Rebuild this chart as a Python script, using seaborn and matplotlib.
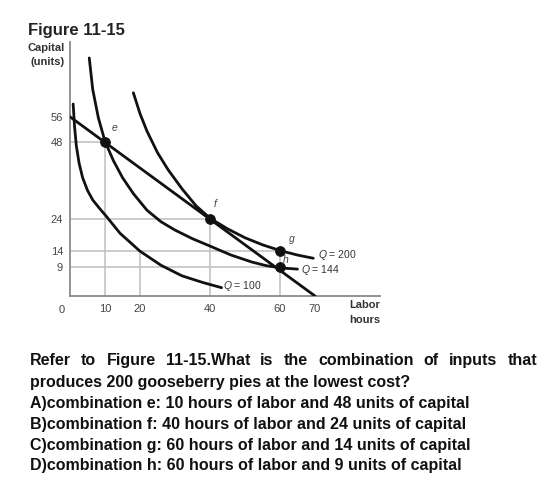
import matplotlib
matplotlib.use("Agg")
import matplotlib.pyplot as plt
import seaborn as sns

# isoquants: labor hours vs capital units
q100_labor   = [0.9, 1.3, 1.8, 2.6, 3.6, 5, 6.5, 8.5, 10.3, 14.3, 20, 26, 32, 38, 43.3]
q100_capital = [60, 53, 47, 41.5, 37, 33, 30, 27.3, 25, 19.6, 14, 9.6, 6.3, 4.2, 2.6]
q144_labor   = [5.5, 6.5, 8.1, 10, 12.4, 15, 18.1, 22, 26, 30, 35, 40, 46, 52, 56, 60, 65]
q144_capital = [74.4, 64.5, 55.7, 48.3, 42.3, 37, 32, 26.8, 23.2, 20.6, 17.9, 15.6, 12.8, 10.6, 9.5, 8.8, 8.4]
q200_labor   = [18.1, 20, 22, 25, 28, 32, 36, 40, 45, 50, 55, 60, 65, 69.5]
q200_capital = [63.5, 57, 51.5, 44.8, 39.5, 33.5, 28.2, 24.3, 21.0, 18.2, 16.0, 14.2, 12.8, 11.8]

# isocost line
iso_labor   = [0, 70]
iso_capital = [56, 0]

# marked combinations
pt_names   = ["e", "f", "g", "h"]
pt_labor   = [10, 40, 60, 60]
pt_capital = [48, 24, 14, 9]

x_ticks = [10, 20, 40, 60, 70]
y_ticks = [9, 14, 24, 48, 56]

# guide lines (level, end)
h_guides = [(48, 10), (24, 40), (14, 60), (9, 60)]
v_guides = [(10, 48), (20, 14), (40, 24), (60, 14)]

question = [
    "Refer to Figure 11-15.What is the combination of inputs that",
    "produces 200 gooseberry pies at the lowest cost?",
    "A)combination e: 10 hours of labor and 48 units of capital",
    "B)combination f: 40 hours of labor and 24 units of capital",
    "C)combination g: 60 hours of labor and 14 units of capital",
    "D)combination h: 60 hours of labor and 9 units of capital",
]

sns.set_theme(style="white")
plt.rcParams["font.family"] = ["Liberation Sans", "DejaVu Sans"]
plt.rcParams["mathtext.fontset"] = "custom"
plt.rcParams["mathtext.it"] = "Liberation Sans:italic"
plt.rcParams["mathtext.rm"] = "Liberation Sans"

W, H = 557, 499
fig = plt.figure(figsize=(W / 100, H / 100), dpi=100)
ax = fig.add_axes([70 / W, 1 - 296 / H, 310 / W, 254 / H])
ax.set_xlim(0, 310 / 3.5)
ax.set_ylim(0, 254 / 3.2)

GUIDE = "#c4c4c4"
for lvl, end in h_guides:
    ax.hlines(lvl, 0, end, color=GUIDE, lw=1.2, zorder=1)
for lvl, end in v_guides:
    ax.vlines(lvl, 0, end, color=GUIDE, lw=1.2, zorder=1)

INK = "#111111"
for xs, ys in [(q100_labor, q100_capital), (q144_labor, q144_capital),
               (q200_labor, q200_capital), (iso_labor, iso_capital)]:
    sns.lineplot(x=xs, y=ys, sort=False, color=INK, lw=2.0, ax=ax, zorder=3)

sns.scatterplot(x=pt_labor, y=pt_capital, color=INK, s=50, edgecolor=INK,
                ax=ax, zorder=4)

lab_off = {"e": (1.7, 4.5), "f": (0.9, 5.0), "g": (2.4, 3.5), "h": (0.5, 2.5)}
for n, x, y in zip(pt_names, pt_labor, pt_capital):
    dx, dy = lab_off[n]
    ax.text(x + dx, y + dy, "$" + n + "$", fontsize=7.5, color="#444", va="center")

ax.text(70.9, 12.7, "$Q$ = 200", fontsize=7.5, color="#333", va="center")
ax.text(65.9, 8.2, "$Q$ = 144", fontsize=7.5, color="#333", va="center")
ax.text(43.8, 3.1, "$Q$ = 100", fontsize=7.5, color="#333", va="center")

ax.set_xticks(x_ticks)
ax.set_xticklabels([str(t) for t in x_ticks])
ax.set_yticks(y_ticks)
ax.set_yticklabels([str(t) for t in y_ticks])
ax.tick_params(length=0, labelsize=8, labelcolor="#444")
ax.tick_params(axis="x", pad=6)
ax.tick_params(axis="y", pad=5)
ax.text(-2.3, -4.5, "0", fontsize=8, color="#444", ha="center", va="center")

sns.despine(ax=ax)
for s in ["left", "bottom"]:
    ax.spines[s].set_color("#8a8a8a")
    ax.spines[s].set_linewidth(1.3)

fig.text(28 / W, 1 - 30 / H, "Figure 11-15", fontsize=12, fontweight="bold",
         color="#222", va="center")
fig.text(65 / W, 1 - 48 / H, "Capital", fontsize=8, fontweight="bold",
         color="#333", ha="right", va="center")
fig.text(65 / W, 1 - 62 / H, "(units)", fontsize=8, fontweight="bold",
         color="#333", ha="right", va="center")
fig.text(349 / W, 1 - 305 / H, "Labor", fontsize=8, fontweight="bold",
         color="#333", va="center")
fig.text(349 / W, 1 - 320 / H, "hours", fontsize=8, fontweight="bold",
         color="#333", va="center")

# question text, first line justified between x=30 and x=537
line_base = [365, 387, 408, 429, 450, 470]
renderer = fig.canvas.get_renderer()
for i, (line, yy) in enumerate(zip(question, line_base)):
    if i == 0:
        words = line.split(" ")
        txts = [fig.text(0, 1 - yy / H, w, fontsize=11.5, fontweight="bold",
                         color="#111", va="baseline") for w in words]
        widths = [t.get_window_extent(renderer).width for t in txts]
        gap = (537 - 30 - sum(widths)) / (len(words) - 1)
        x = 30
        for t, w in zip(txts, widths):
            t.set_x(x / W)
            x += w + gap
    else:
        fig.text(30 / W, 1 - yy / H, line, fontsize=11.5, fontweight="bold",
                 color="#111", va="baseline")

fig.savefig("out.png", dpi=100)
